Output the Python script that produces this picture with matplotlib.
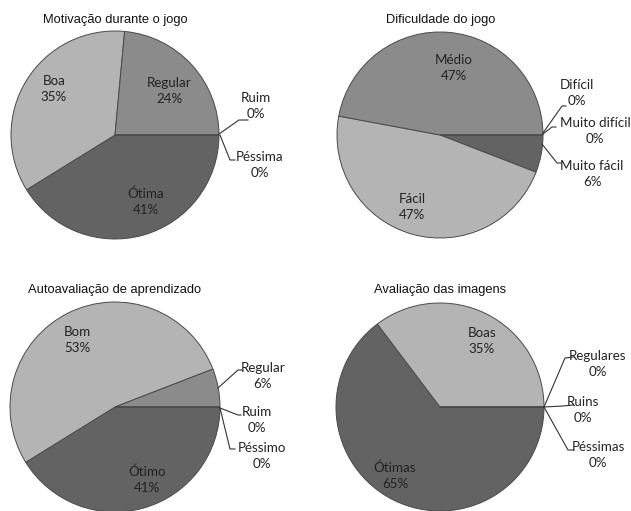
import matplotlib.pyplot as plt

W, H = 631, 511

# dados (respostas, n = 17)
titles = ['Motivação durante o jogo', 'Dificuldade do jogo',
          'Autoavaliação de aprendizado', 'Avaliação das imagens']

motiv_labels = ['Ótima', 'Boa', 'Regular', 'Ruim', 'Péssima']
motiv_counts = [7, 6, 4, 0, 0]

dific_labels = ['Muito fácil', 'Fácil', 'Médio', 'Difícil', 'Muito difícil']
dific_counts = [1, 8, 8, 0, 0]

aprend_labels = ['Ótimo', 'Bom', 'Regular', 'Ruim', 'Péssimo']
aprend_counts = [7, 9, 1, 0, 0]

imagens_labels = ['Ótimas', 'Boas', 'Regulares', 'Ruins', 'Péssimas']
imagens_counts = [11, 6, 0, 0, 0]

# layout (pixels, y para baixo)
centers = [(115, 135), (440, 135), (115, 407), (440, 407)]
radii = [104, 103, 105, 104]
title_pos = [(115, 20), (441, 20), (115, 290), (440, 290)]

label_pos = [
    [(146, 202), (54, 89), (169, 91), (256, 106), (260, 165)],
    [(592, 174), (412, 207), (454, 68), (577, 93), (595, 131)],
    [(147, 480), (77, 340), (263, 376), (257, 420), (262, 456)],
    [(395, 476), (482, 341), (598, 364), (583, 410), (598, 455)],
]
leaders = [
    [None, None, None, [(219, 134), (239, 120), (248, 120)], [(220, 135), (230, 160), (235, 160)]],
    [[(542, 144), (557, 163), (561, 163)], None, None,
     [(543, 133), (562, 106), (566, 106)], [(543, 134), (552, 127), (556, 127)]],
    [None, None, [(218, 388), (238, 370), (242, 370)],
     [(220, 408), (238, 415), (241, 415)], [(220, 408), (230, 449), (235, 449)]],
    [None, None, [(544, 407), (565, 358), (573, 357)],
     [(544, 407), (563, 406), (573, 405)], [(544, 407), (568, 450), (573, 450)]],
]

colors = ['#636363', '#b4b4b4', '#8b8b8b', '#8b8b8b', '#8b8b8b']

all_labels = [motiv_labels, dific_labels, aprend_labels, imagens_labels]
all_counts = [motiv_counts, dific_counts, aprend_counts, imagens_counts]

fig = plt.figure(figsize=(W / 100, H / 100), dpi=100)
ax = fig.add_axes([0, 0, 1, 1])

for i in range(4):
    counts = all_counts[i]
    total = sum(counts)
    # y invertido: ordem anti-horária nos dados vira horária na tela
    ax.pie(counts, colors=colors, center=centers[i], radius=radii[i],
           startangle=0, counterclock=True, frame=True,
           wedgeprops=dict(edgecolor='#4a4a4a', linewidth=0.7))
    ax.text(title_pos[i][0], title_pos[i][1], titles[i], ha='center', va='center',
            fontsize=9.3, family='Liberation Sans', color='#111111')
    for j, lab in enumerate(all_labels[i]):
        pct = round(100 * counts[j] / total)
        x, y = label_pos[i][j]
        ax.text(x, y, f'{lab}\n{pct}%', ha='center', va='center', multialignment='center',
                fontsize=9.6, family='Lato', color='#222222', linespacing=1.4)
        if leaders[i][j] is not None:
            xs = [p[0] for p in leaders[i][j]]
            ys = [p[1] for p in leaders[i][j]]
            ax.plot(xs, ys, color='#333333', lw=0.8)

ax.set_xlim(0, W)
ax.set_ylim(H, 0)
ax.set_aspect('auto')
ax.axis('off')

fig.savefig('out.png', dpi=100, facecolor='white')
